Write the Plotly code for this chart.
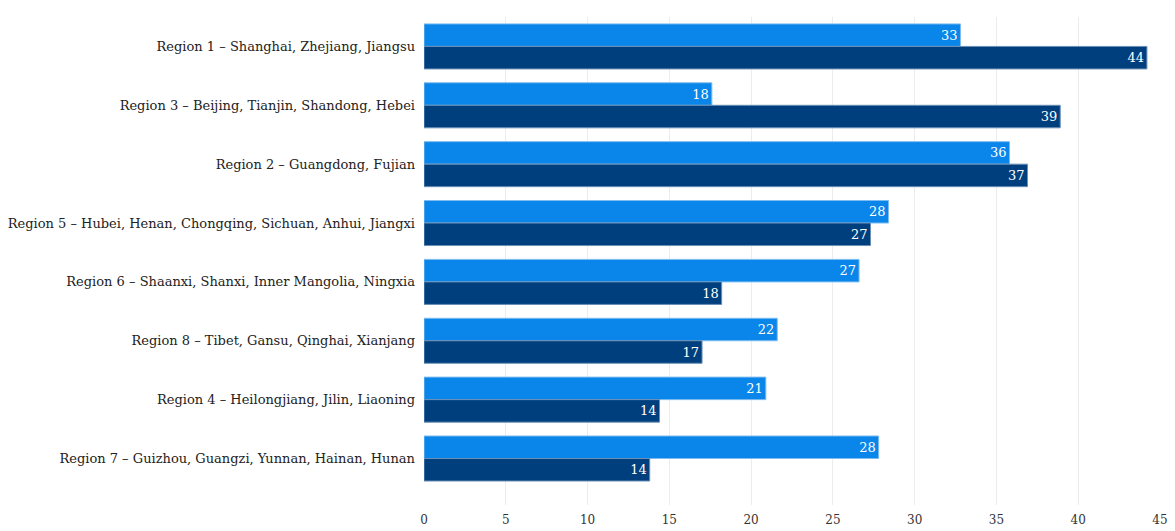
import plotly.graph_objects as go

categories = [
    "Region 1 – Shanghai, Zhejiang, Jiangsu",
    "Region 3 – Beijing, Tianjin, Shandong, Hebei",
    "Region 2 – Guangdong, Fujian",
    "Region 5 – Hubei, Henan, Chongqing, Sichuan, Anhui, Jiangxi",
    "Region 6 – Shaanxi, Shanxi, Inner Mangolia, Ningxia",
    "Region 8 – Tibet, Gansu, Qinghai, Xianjang",
    "Region 4 – Heilongjiang, Jilin, Liaoning",
    "Region 7 – Guizhou, Guangzi, Yunnan, Hainan, Hunan",
]
series_light = [32.8, 17.6, 35.8, 28.4, 26.6, 21.6, 20.9, 27.8]
series_dark = [44.2, 38.9, 36.9, 27.3, 18.2, 17.0, 14.4, 13.8]
x_ticks = [0, 5, 10, 15, 20, 25, 30, 35, 40, 45]

FONT = "DejaVu Serif, Liberation Serif, serif"

fig = go.Figure()
fig.add_trace(go.Bar(
    y=categories, x=series_light, orientation="h", name="A",
    marker=dict(color="#0a85e9", line=dict(color="#7fbdf0", width=1)),
    text=series_light, texttemplate="%{x:.0f}", textposition="inside",
    insidetextanchor="end", textfont=dict(color="white", size=13, family=FONT),
))
fig.add_trace(go.Bar(
    y=categories, x=series_dark, orientation="h", name="B",
    marker=dict(color="#003f7e", line=dict(color="#6b8fb5", width=1)),
    text=series_dark, texttemplate="%{x:.0f}", textposition="inside",
    insidetextanchor="end", textfont=dict(color="white", size=13, family=FONT),
))
fig.update_layout(
    width=1175, height=531,
    margin=dict(l=424, r=15, t=17, b=26),
    barmode="group", bargap=0.235, bargroupgap=0,
    showlegend=False,
    plot_bgcolor="white", paper_bgcolor="white",
    font=dict(family=FONT, color="#222222", size=13),
)
fig.update_xaxes(
    range=[0, 45], tickvals=x_ticks, showgrid=True, gridcolor="#ececec",
    gridwidth=1, zeroline=False, showline=False, ticks="",
    ticklabelstandoff=6,
    tickfont=dict(size=12, color="#333333"), automargin=False,
)
fig.update_yaxes(
    range=[7.79, -0.5], showgrid=False, zeroline=False, showline=False,
    ticks="", ticklabelstandoff=8, tickfont=dict(size=13, color="#222222"),
    automargin=False,
)
fig.write_html("out.html")
